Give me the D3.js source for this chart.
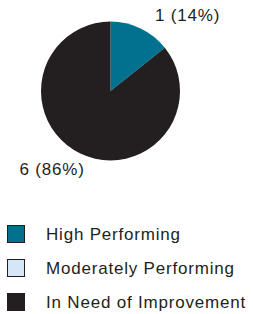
<!DOCTYPE html>
<html>
<head>
<meta charset="utf-8">
<script src="https://cdn.jsdelivr.net/npm/d3@7"></script>
<style>
  body { margin: 0; background: #fff; }
  text { font-family: "Liberation Sans", Arial, sans-serif; fill: #231f20; }
</style>
</head>
<body>
<script>
// data
var categories = ["High Performing", "Moderately Performing", "In Need of Improvement"];
var counts = [1, 0, 6];
var sliceLabels = ["1 (14%)", "", "6 (86%)"];
var colors = ["#00718f", "#d5e6f6", "#231f20"];

var w = 253; // breedte
var h = 314;

var svg = d3.select("body").append("svg")
    .attr("width", w)
    .attr("height", h);

var cx = 110.5, cy = 91, r = 69.5;

var data = categories.map(function(c, i) {
    return {cat: c, n: counts[i], label: sliceLabels[i], color: colors[i]};
});

var pie = d3.pie()
    .sort(null)
    .value(function(d) { return d.n; });

var arc = d3.arc()
    .innerRadius(0)
    .outerRadius(r);

var g = svg.append("g")
    .attr("transform", "translate(" + cx + "," + cy + ")");

g.selectAll("path")
    .data(pie(data).filter(function(d) { return d.data.n > 0; }))
    .enter()
    .append("path")
    .attr("d", arc)
    .attr("fill", function(d) { return d.data.color; });

// labels outside the slices
var labelPos = [[44.5, -70], null, [-91, 84]];
g.selectAll("text.lab")
    .data(pie(data))
    .enter()
    .filter(function(d) { return d.data.n > 0; })
    .append("text")
    .attr("class", "lab")
    .attr("x", function(d) { return labelPos[d.index][0]; })
    .attr("y", function(d) { return labelPos[d.index][1]; })
    .attr("font-size", 17)
    .attr("letter-spacing", 0.8)
    .text(function(d) { return d.data.label; });

// legend
var ly = d3.scalePoint()
    .domain(categories)
    .range([234, 302]);

var leg = svg.selectAll("g.leg")
    .data(data)
    .enter()
    .append("g")
    .attr("class", "leg")
    .attr("transform", function(d) { return "translate(0," + ly(d.cat) + ")"; });

leg.append("rect")
    .attr("x", 7.5)
    .attr("y", -8.5)
    .attr("width", 17)
    .attr("height", 17)
    .attr("fill", function(d) { return d.color; })
    .attr("stroke", "#231f20")
    .attr("stroke-width", 1);

leg.append("text")
    .attr("x", 46)
    .attr("y", 6)
    .attr("font-size", 17)
    .attr("letter-spacing", 0.8)
    .text(function(d) { return d.cat; });
</script>
</body>
</html>
